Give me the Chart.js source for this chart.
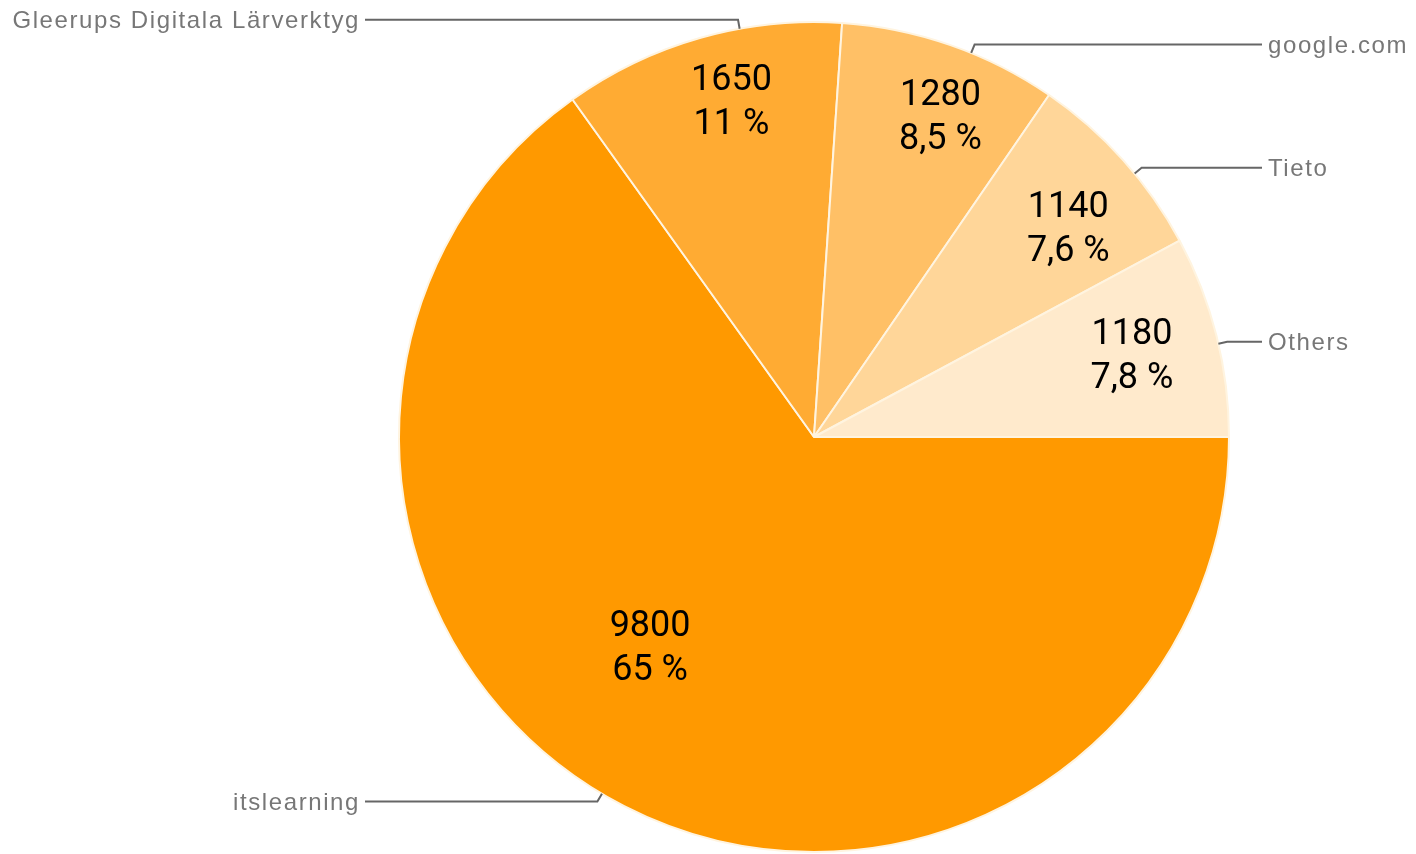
<!DOCTYPE html>
<html>
<head>
<meta charset="utf-8">
<script src="https://cdn.jsdelivr.net/npm/chart.js@4.4.1/dist/chart.umd.min.js"></script>
<style>
    html, body { margin: 0; padding: 0; background: #fff; }
    #wrap { width: 1416px; height: 854px; position: relative; }
</style>
</head>
<body>
<div id="wrap"><canvas id="torta"></canvas></div>
<script>
// --- Datos del gráfico ---
const categorias = ['itslearning', 'Gleerups Digitala Lärverktyg', 'google.com', 'Tieto', 'Others'];
const valores = [9800, 1650, 1280, 1140, 1180];
const colores = ['#ff9900', '#ffab33', '#ffc066', '#ffd699', '#ffeacc'];

// Ajustes de colocación de etiquetas (fracción del ángulo de la porción, radio relativo)
const ajusteEtiqueta = [
    { frac: 0.545, radio: 0.645 },
    { frac: 0.55, radio: 0.83 },
    { frac: 0.58, radio: 0.826 },
    { frac: 0.60, radio: 0.79 },
    { frac: 0.50, radio: 0.79 }
];
const ajusteGuia = [0.515, 0.64, 0.6, 0.59, 0.54];

const total = valores.reduce((a, b) => a + b, 0);

function formatoPct(v) {
    const p = v * 100 / total;
    const txt = p >= 10 ? Math.round(p).toString() : p.toFixed(1).replace('.', ',');
    return txt + ' %';
}

const etiquetasPlugin = {
    id: 'etiquetasTorta',
    afterDatasetsDraw(chart) {
        const ctx = chart.ctx;
        const meta = chart.getDatasetMeta(0);
        ctx.save();
        meta.data.forEach((arc, i) => {
            const p = arc.getProps(['x', 'y', 'startAngle', 'endAngle', 'outerRadius'], true);
            const span = p.endAngle - p.startAngle;

            // texto interior: valor y porcentaje
            const aj = ajusteEtiqueta[i];
            const a = p.startAngle + span * aj.frac;
            const cx = p.x + Math.cos(a) * p.outerRadius * aj.radio;
            const cy = p.y + Math.sin(a) * p.outerRadius * aj.radio;
            ctx.fillStyle = '#000';
            ctx.font = '36px Roboto';
            ctx.letterSpacing = '0px';
            ctx.textAlign = 'center';
            ctx.textBaseline = 'middle';
            ctx.fillText(String(valores[i]), cx, cy - 22);
            ctx.fillText(formatoPct(valores[i]), cx, cy + 22);

            // línea guía y nombre exterior
            const g = p.startAngle + span * ajusteGuia[i];
            const x0 = p.x + Math.cos(g) * p.outerRadius;
            const y0 = p.y + Math.sin(g) * p.outerRadius;
            const x1 = p.x + Math.cos(g) * (p.outerRadius + 9);
            const y1 = p.y + Math.sin(g) * (p.outerRadius + 9);
            const derecha = Math.cos(g) > 0;
            const xTexto = derecha ? 1268 : 360;
            ctx.strokeStyle = '#666';
            ctx.lineWidth = 2;
            ctx.beginPath();
            ctx.moveTo(x0, y0);
            ctx.lineTo(x1, y1);
            ctx.lineTo(derecha ? xTexto - 6 : xTexto + 5, y1);
            ctx.stroke();

            ctx.fillStyle = '#777';
            ctx.font = '24px "Liberation Sans", Arial, sans-serif';
            ctx.letterSpacing = '1.6px';
            ctx.textAlign = derecha ? 'left' : 'right';
            ctx.fillText(categorias[i], xTexto, y1 + 2);
        });
        ctx.restore();
    }
};

const ctx = document.getElementById('torta').getContext('2d');
new Chart(ctx, {
    type: 'pie',
    data: {
        labels: categorias,
        datasets: [{
            data: valores,
            backgroundColor: colores,
            borderColor: '#fff4e0',
            borderWidth: 2
        }]
    },
    options: {
        responsive: true,
        maintainAspectRatio: false,
        animation: false,
        rotation: 90,
        layout: { padding: { left: 398, right: 186, top: 21, bottom: 1 } },
        plugins: {
            legend: { display: false },
            tooltip: { enabled: false }
        }
    },
    plugins: [etiquetasPlugin]
});
</script>
</body>
</html>
